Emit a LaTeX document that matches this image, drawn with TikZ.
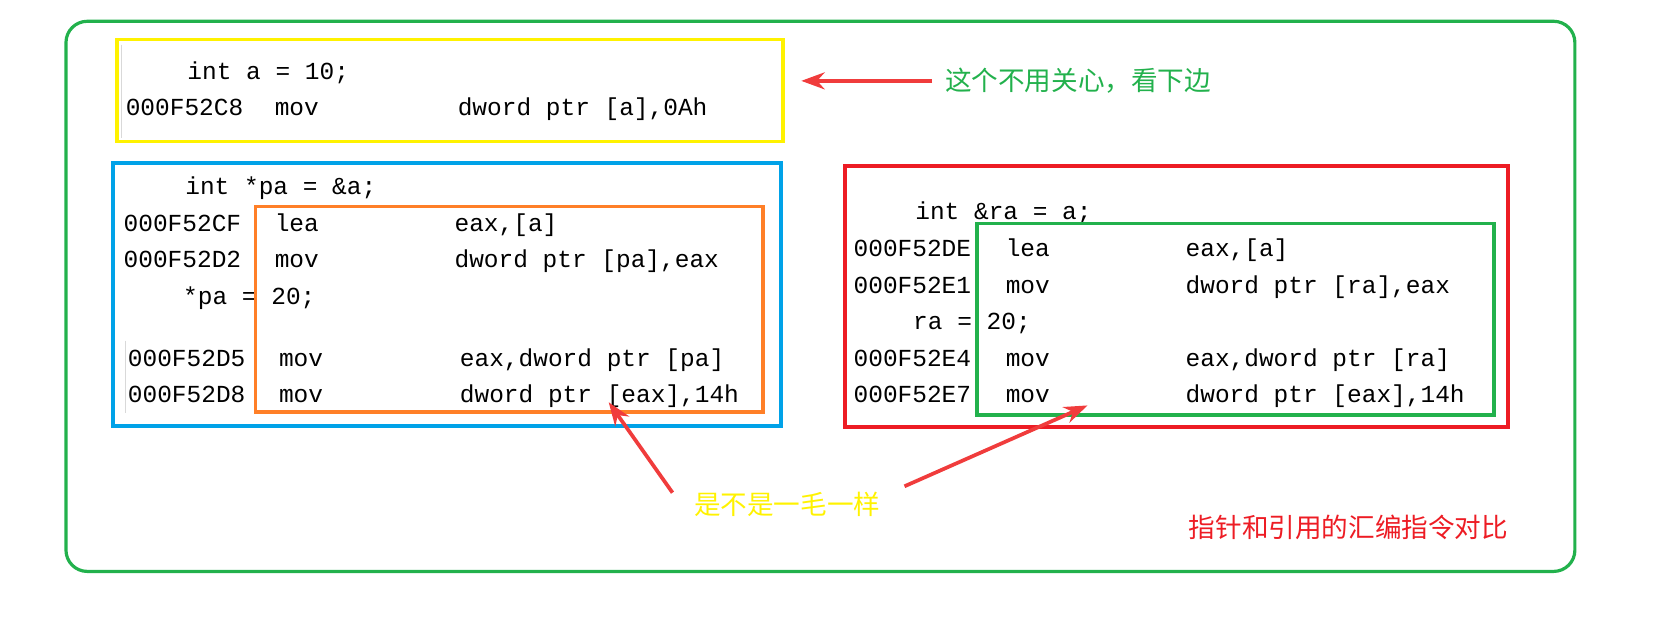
\documentclass[tikz,border=0pt]{standalone}
\usepackage{fontspec}
\setmonofont{Liberation Mono}
\newfontfamily\cjk{Noto Sans CJK SC}
\usetikzlibrary{arrows.meta}
\definecolor{cgreen}{HTML}{22B14C}
\definecolor{cyellow}{HTML}{FFF200}
\definecolor{cblue}{HTML}{00A2E8}
\definecolor{corange}{HTML}{FF7F27}
\definecolor{cred}{HTML}{ED1C24}
\definecolor{carrow}{HTML}{F03C3C}
\tikzset{
    code/.style={anchor=base west,inner sep=0pt,font=\ttfamily\fontsize{23}{23}\selectfont},
    note/.style={anchor=west,inner sep=0pt,font=\cjk\fontsize{25}{25}\selectfont},
    box/.style={line width=3.5pt},
    pointer/.style={carrow,line width=3.5pt,-{Stealth[length=22pt,width=16pt]}}
}
% one assembly line: y, x of address, address, x of op, op, x of args, args, name
\newcommand*{\asmline}[8]{
    \node[code] (#8a) at (#2,#1+8) {#3};
    \node[code] (#8o) at (#4,#1+8) {#5};
    \node[code] (#8r) at (#6,#1+8) {#7};
}
\begin{document}
\begin{tikzpicture}[x=1pt,y=-1pt]
    \useasboundingbox (0,0) rectangle (1560,585);
    \draw [cgreen,line width=3pt,rounded corners=20pt] (62,20) rectangle (1480,537);

    % a
    \draw [gray!30,line width=1.5pt] (114,42) -- (114,130);
    \draw [cyellow,box] (110,37) rectangle (736,133);
    \node[code] (srcA) at (176,75) {int a = 10;};
    \asmline{101}{118}{000F52C8}{258}{mov}{430}{dword ptr [a],0Ah}{A}
    \node[note,text=cgreen] (noteA) at (888,76) {这个不用关心，看下边};
    \coordinate (tipA) at (753,76);
    \draw [pointer] (noteA.west) ++(-12,0) -- (tipA);

    % pointer
    \draw [cblue,box] (106,153) rectangle (734,400);
    \draw [gray!30,line width=1.5pt] (118,320) -- (118,388);
    \node[code] (srcP) at (174,183) {int *pa = \&a;};
    \asmline{210}{116}{000F52CF}{258}{lea}{427}{eax,[a]}{P1}
    \asmline{243}{116}{000F52D2}{258}{mov}{427}{dword ptr [pa],eax}{P2}
    \node[code] (setP) at (172,286) {*pa = 20;};
    \asmline{336}{120}{000F52D5}{262}{mov}{432}{eax,dword ptr [pa]}{P3}
    \asmline{370}{120}{000F52D8}{262}{mov}{432}{dword ptr [eax],14h}{P4}
    \draw [corange,box] (240,194) rectangle (717,387);

    % reference
    \draw [cred,box] (794,156) rectangle (1417,401);
    \node[code] (srcR) at (860,206) {int \&ra = a;};
    \asmline{233}{802}{000F52DE}{945}{lea}{1114}{eax,[a]}{R1}
    \asmline{268}{802}{000F52E1}{945}{mov}{1114}{dword ptr [ra],eax}{R2}
    \node[code] (setR) at (858,310) {ra = 20;};
    \asmline{336}{802}{000F52E4}{945}{mov}{1114}{eax,dword ptr [ra]}{R3}
    \asmline{370}{802}{000F52E7}{945}{mov}{1114}{dword ptr [eax],14h}{R4}
    \draw [cgreen,box] (918,210) rectangle (1404,390);

    % same
    \node[note,text=cyellow] (same) at (652,474) {是不是一毛一样};
    \coordinate (tipP) at (572,378);
    \coordinate (tipR) at (1022,381);
    \draw [pointer] (632,463) -- (tipP);
    \draw [pointer] (850,457) -- (tipR);

    \node[note,text=cred] (title) at (1117,496) {指针和引用的汇编指令对比};
\end{tikzpicture}
\end{document}
